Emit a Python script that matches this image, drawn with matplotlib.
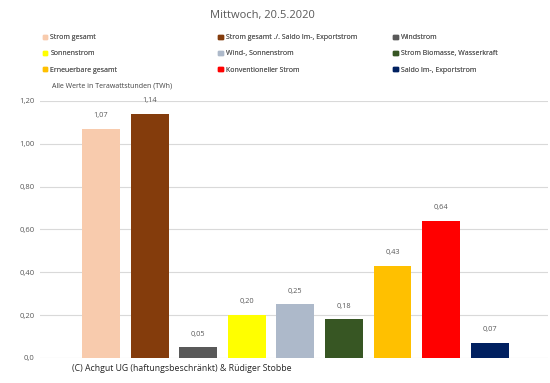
import matplotlib.pyplot as plt
import numpy as np

plt.rcParams['font.family'] = ['Open Sans', 'DejaVu Sans']

categories = ["Strom gesamt", "Strom gesamt ./. Saldo Im-, Exportstrom", "Windstrom",
              "Sonnenstrom", "Wind-, Sonnenstrom", "Strom Biomasse, Wasserkraft",
              "Erneuerbare gesamt", "Konventioneller Strom", "Saldo Im-, Exportstrom"]
values = [1.07, 1.14, 0.05, 0.20, 0.25, 0.18, 0.43, 0.64, 0.07]
colors = ["#F8CBAD", "#843C0C", "#595959", "#FFFF00", "#ADB9CA",
          "#375623", "#FFC000", "#FF0000", "#002060"]
yticks = [0.0, 0.2, 0.4, 0.6, 0.8, 1.0, 1.2]
yticklabels = ["0,0", "0,20", "0,40", "0,60", "0,80", "1,00", "1,20"]

fig = plt.figure(figsize=(5.5, 3.83), dpi=100)
ax = fig.add_axes([0.0727, 0.0653, 0.9237, 0.671])

x = np.arange(len(values))
bars = ax.bar(x, values, width=0.78, color=colors)
ax.bar_label(bars, labels=[f"{v:.2f}".replace('.', ',') for v in values],
             padding=7, fontsize=5.3, color="#595959")

ax.set_xlim(-1.255, 9.2)
ax.set_ylim(0, 1.2)
ax.set_yticks(yticks)
ax.set_yticklabels(yticklabels, fontsize=5.5, color="#595959")
ax.set_xticks([])
ax.tick_params(axis='y', length=0, pad=4)
ax.grid(axis='y', color="#D9D9D9", linewidth=0.8)
ax.set_axisbelow(True)
for s in ax.spines.values():
    s.set_visible(False)

fig.text(0.478, 0.96, "Mittwoch, 20.5.2020", ha='center', va='center',
         fontsize=8, color="#595959")
fig.text(0.095, 0.775, "Alle Werte in Terawattstunden (TWh)", ha='left', va='center',
         fontsize=5, color="#404040")
fig.text(0.131, 0.039, "(C) Achgut UG (haftungsbeschränkt) & Rüdiger Stobbe", ha='left',
         va='center', fontsize=6.3, color="#262626")

# legend: three columns, read row by row
handles = [plt.Rectangle((0, 0), 1, 1, color=c) for c in colors]
col_x = [0.078, 0.397, 0.715]
for col in range(3):
    idx = [col, col + 3, col + 6]
    leg = fig.legend([handles[i] for i in idx], [categories[i] for i in idx],
                     loc='upper left', bbox_to_anchor=(col_x[col], 0.91),
                     frameon=False, fontsize=5, handlelength=0.65, handleheight=0.65,
                     handletextpad=0.4, labelspacing=1.3, borderaxespad=0,
                     borderpad=0, labelcolor="#595959")
    fig.add_artist(leg)

fig.savefig("out.png", dpi=100)
